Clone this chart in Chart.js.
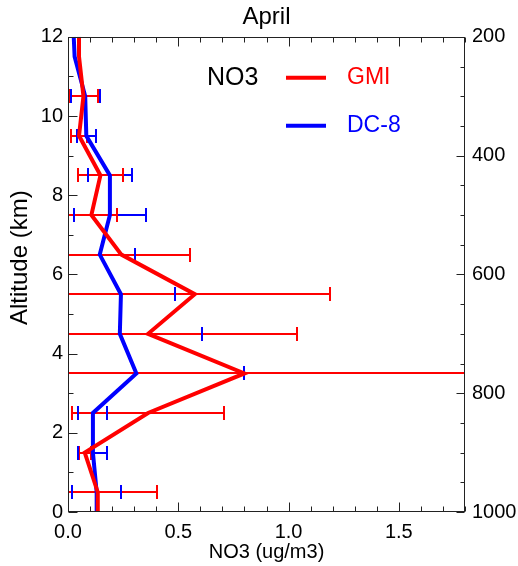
<!DOCTYPE html>
<html>
<head>
<meta charset="utf-8">
<script src="https://cdn.jsdelivr.net/npm/chart.js@4.4.1/dist/chart.umd.min.js"></script>
<style>
  html, body { margin: 0; padding: 0; background: #fff; }
</style>
</head>
<body>
<canvas id="no3Chart" width="518" height="566"></canvas>
<script>
// Vertical profile of NO3, April: GMI model vs DC-8 observations

const altitudes = [0, 0.5, 1.5, 2.5, 3.5, 4.5, 5.5, 6.5, 7.5, 8.5, 9.5, 10.5, 11.5, 12];

const gmiMean = [0.135, 0.135, 0.076, 0.363, 0.80, 0.363, 0.575, 0.242, 0.106, 0.147, 0.05, 0.07, 0.05, 0.05];
const gmiStd  = [null, 0.27, 0.027, 0.345, 1.0, 0.677, 0.615, 0.31, 0.116, 0.103, 0.035, 0.066, null, null];

const dc8Mean = [0.13, 0.13, 0.113, 0.113, 0.31, 0.235, 0.24, 0.144, 0.19, 0.19, 0.083, 0.078, 0.03, 0.026];
const dc8Std  = [null, 0.11, 0.066, 0.066, 0.49, 0.372, 0.244, 0.159, 0.162, 0.10, 0.043, 0.066, null, null];

const xTicks = [0, 0.5, 1.0, 1.5];
const altTicks = [0, 2, 4, 6, 8, 10, 12];
const presTicks = [200, 400, 600, 800, 1000];

const FONT = "'Liberation Sans', Arial, Helvetica, sans-serif";
const RED = '#ff0000';
const BLUE = '#0000ff';

function toPoints(means) {
    return altitudes.map((alt, i) => ({ x: means[i], y: alt }));
}

// horizontal error bars, drawn under the profile lines
const errorBars = {
    id: 'errorBars',
    beforeDatasetsDraw(chart) {
        const { ctx, chartArea: a, scales } = chart;
        const xs = scales.x, ys = scales.y;
        const capH = 7;

        function draw(ds, part) {
            ctx.strokeStyle = ds.borderColor;
            ctx.lineWidth = 2;
            altitudes.forEach((alt, i) => {
                const sd = ds.errors[i];
                if (sd === null) return;
                const m = ds.data[i].x;
                const py = Math.round(ys.getPixelForValue(alt));
                const x0 = Math.round(xs.getPixelForValue(m - sd));
                const x1 = Math.round(xs.getPixelForValue(m + sd));
                ctx.beginPath();
                if (part === 'bar') {
                    ctx.moveTo(x0, py);
                    ctx.lineTo(x1, py);
                } else {
                    ctx.moveTo(x0, py - capH);
                    ctx.lineTo(x0, py + capH);
                    ctx.moveTo(x1, py - capH);
                    ctx.lineTo(x1, py + capH);
                }
                ctx.stroke();
            });
        }

        const gmi = chart.data.datasets[0];
        const dc8 = chart.data.datasets[1];
        ctx.save();
        ctx.beginPath();
        ctx.rect(a.left, a.top, a.right - a.left, a.bottom - a.top);
        ctx.clip();
        draw(dc8, 'bar');
        draw(gmi, 'bar');
        draw(gmi, 'caps');
        draw(dc8, 'caps');
        ctx.restore();
    }
};

// plot box with inward ticks on all four sides
const boxTicks = {
    id: 'boxTicks',
    afterDraw(chart) {
        const { ctx, chartArea: a, scales } = chart;
        const L = Math.round(a.left) + 0.5, R = Math.round(a.right) - 0.5;
        const T = Math.round(a.top) + 0.5, B = Math.round(a.bottom) - 0.5;
        ctx.save();
        ctx.strokeStyle = '#222';
        ctx.lineWidth = 1;
        ctx.strokeRect(L, T, R - L, B - T);

        ctx.beginPath();
        for (let v = 0; v <= 1.8001; v += 0.1) {
            const px = Math.round(scales.x.getPixelForValue(v)) + 0.5;
            const major = Math.abs(v / 0.5 - Math.round(v / 0.5)) < 1e-6;
            const len = major ? 9 : 5;
            ctx.moveTo(px, B); ctx.lineTo(px, B - len);
            ctx.moveTo(px, T); ctx.lineTo(px, T + len);
        }
        for (let v = 0; v <= 12; v += 1) {
            const py = Math.round(scales.y.getPixelForValue(v)) + 0.5;
            const len = v % 2 === 0 ? 9 : 5;
            ctx.moveTo(L, py); ctx.lineTo(L + len, py);
        }
        for (let v = 200; v <= 1000; v += 50) {
            const py = Math.round(scales.y2.getPixelForValue(v)) + 0.5;
            const len = v % 200 === 0 ? 8 : 4;
            ctx.moveTo(R, py); ctx.lineTo(R - len, py);
        }
        ctx.stroke();
        ctx.restore();
    }
};

// in-plot legend
const profileLegend = {
    id: 'profileLegend',
    afterDraw(chart) {
        const { ctx, chartArea: a } = chart;
        ctx.save();
        ctx.textBaseline = 'middle';
        ctx.textAlign = 'left';
        ctx.font = '25px ' + FONT;
        ctx.fillStyle = '#000';
        ctx.fillText('NO3', a.left + 139, a.top + 41);

        ctx.lineWidth = 4;
        ctx.strokeStyle = RED;
        ctx.beginPath();
        ctx.moveTo(a.left + 218, a.top + 41);
        ctx.lineTo(a.left + 258, a.top + 41);
        ctx.stroke();
        ctx.strokeStyle = BLUE;
        ctx.beginPath();
        ctx.moveTo(a.left + 218, a.top + 89);
        ctx.lineTo(a.left + 258, a.top + 89);
        ctx.stroke();

        ctx.font = '23px ' + FONT;
        ctx.fillStyle = RED;
        ctx.fillText('GMI', a.left + 279, a.top + 41);
        ctx.fillStyle = BLUE;
        ctx.fillText('DC-8', a.left + 279, a.top + 89);
        ctx.restore();
    }
};

const tickFont = { family: FONT, size: 20 };
const noGrid = { display: false, drawTicks: false };

new Chart(document.getElementById('no3Chart'), {
    type: 'line',
    data: {
        datasets: [
            {
                label: 'GMI',
                data: toPoints(gmiMean),
                errors: gmiStd,
                borderColor: RED,
                borderWidth: 4,
                pointRadius: 0,
                borderJoinStyle: 'miter',
                tension: 0,
            },
            {
                label: 'DC-8',
                data: toPoints(dc8Mean),
                errors: dc8Std,
                borderColor: BLUE,
                borderWidth: 4,
                pointRadius: 0,
                borderJoinStyle: 'miter',
                tension: 0,
            }
        ]
    },
    options: {
        responsive: false,
        animation: false,
        devicePixelRatio: 1,
        parsing: false,
        layout: { padding: 0 },
        plugins: {
            legend: { display: false },
            tooltip: { enabled: false },
            title: {
                display: true,
                text: 'April',
                fullSize: false,
                color: '#000',
                font: { family: FONT, size: 24, weight: 'normal' },
                padding: { top: 3, bottom: 5 },
            },
        },
        scales: {
            x: {
                type: 'linear',
                min: 0,
                max: 1.8,
                afterBuildTicks: s => { s.ticks = xTicks.map(v => ({ value: v })); },
                afterFit: s => { s.height = 54; },
                grid: noGrid,
                border: { display: false },
                ticks: {
                    color: '#000',
                    font: tickFont,
                    padding: 8,
                    maxRotation: 0,
                    autoSkip: false,
                    callback: v => v.toFixed(1),
                },
                title: {
                    display: true,
                    text: 'NO3 (ug/m3)',
                    color: '#000',
                    font: { family: FONT, size: 20 },
                    padding: { top: 0, bottom: 2 },
                },
            },
            y: {
                type: 'linear',
                position: 'left',
                min: 0,
                max: 12,
                afterBuildTicks: s => { s.ticks = altTicks.map(v => ({ value: v })); },
                afterFit: s => { s.width = 68; },
                grid: noGrid,
                border: { display: false },
                ticks: {
                    color: '#000',
                    font: tickFont,
                    padding: 5,
                    autoSkip: false,
                    callback: v => String(v),
                },
                title: {
                    display: true,
                    // leading spaces nudge the rotated title upward, as in the original
                    text: '     Altitude (km)',
                    color: '#000',
                    font: { family: FONT, size: 24 },
                    padding: { top: 6, bottom: 0 },
                },
            },
            y2: {
                type: 'linear',
                position: 'right',
                min: 200,
                max: 1000,
                reverse: true,
                afterBuildTicks: s => { s.ticks = presTicks.map(v => ({ value: v })); },
                afterFit: s => { s.width = 53; },
                grid: noGrid,
                border: { display: false },
                ticks: {
                    color: '#000',
                    font: tickFont,
                    padding: 7,
                    autoSkip: false,
                    callback: v => String(v),
                },
            },
        },
    },
    plugins: [errorBars, boxTicks, profileLegend],
});
</script>
</body>
</html>
